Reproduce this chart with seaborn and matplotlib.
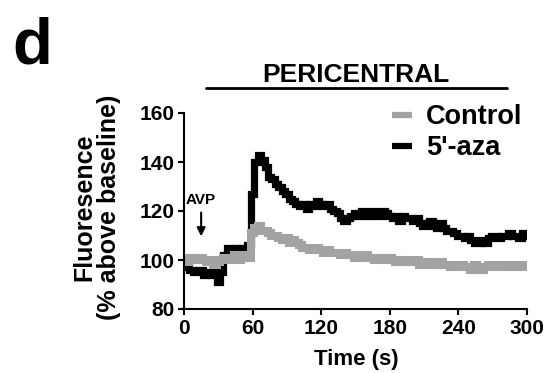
import numpy as np
import pandas as pd
import matplotlib
matplotlib.use("Agg")
import matplotlib.pyplot as plt
from matplotlib.lines import Line2D
import seaborn as sns

time_step_s = 3
aza_values = [99, 97, 96, 95, 95, 96, 94, 95, 94, 95, 91, 95, 102, 105, 104, 105, 104, 105, 104, 106,
              127, 140, 143, 141, 138, 134, 133, 131, 130, 128, 127, 125, 124, 123, 122, 123, 121, 123, 122, 124,
              123, 122, 123, 121, 120, 119, 117, 116, 117, 118, 119, 118, 120, 119, 118, 120, 119, 118, 120, 119,
              118, 117, 118, 116, 118, 117, 117, 116, 117, 115, 114, 115, 116, 114, 113, 115, 113, 112, 112, 111,
              110, 110, 109, 110, 108, 107, 107, 108, 107, 109, 110, 110, 109, 110, 110, 111, 110, 110, 109, 111,
              110]
control_values = [100, 99, 101, 100, 100, 101, 100, 99, 100, 98, 99, 100, 101, 101, 100, 102, 100, 101, 102, 101,
                  111, 113, 114, 112, 112, 111, 110, 110, 109, 108, 109, 107, 108, 107, 106, 105, 105, 104, 104, 105,
                  104, 103, 104, 103, 103, 103, 102, 103, 102, 102, 101, 102, 101, 102, 101, 101, 100, 101, 100, 100,
                  101, 100, 99, 100, 99, 100, 99, 99, 100, 98, 99, 99, 98, 99, 98, 99, 98, 98, 97, 98,
                  97, 98, 97, 97, 96, 98, 97, 96, 97, 98, 97, 97, 98, 97, 98, 98, 97, 97, 98, 97,
                  98]
series_labels = ["Control", "5'-aza"]
series_colors = ["#a3a3a3", "#000000"]
x_ticks = [0, 60, 120, 180, 240, 300]
y_ticks = [80, 100, 120, 140, 160]
stim_time = 15
stim_label = "AVP"
title = "PERICENTRAL"
panel_letter = "d"
xlabel = "Time (s)"
ylabel = "Fluoresence\n(% above baseline)"

t_ctrl = np.arange(len(control_values)) * time_step_s
t_aza = np.arange(len(aza_values)) * time_step_s
df = pd.concat([
    pd.DataFrame({"t": t_ctrl, "v": control_values, "group": series_labels[0]}),
    pd.DataFrame({"t": t_aza, "v": aza_values, "group": series_labels[1]}),
])

sns.set_style("ticks")
plt.rcParams["font.family"] = ["Liberation Sans", "DejaVu Sans"]
plt.rcParams["font.weight"] = "bold"
for k in ["text.color", "axes.labelcolor", "xtick.color", "ytick.color", "axes.edgecolor"]:
    plt.rcParams[k] = "black"

W, H = 551, 373
fig = plt.figure(figsize=(W / 100, H / 100), dpi=100)
ax = fig.add_axes([184 / W, 1 - 309 / H, (527 - 184) / W, (309 - 113) / H])

# draw black first, then grey on top
sns.lineplot(data=df[df.group == series_labels[1]], x="t", y="v", color=series_colors[1],
             lw=5.2, drawstyle="steps-mid", ax=ax, legend=False, estimator=None,
             solid_joinstyle="miter")
sns.lineplot(data=df[df.group == series_labels[0]], x="t", y="v", color=series_colors[0],
             lw=5.8, drawstyle="steps-mid", ax=ax, legend=False, estimator=None,
             solid_joinstyle="miter")

ax.set_xlim(0, 300)
ax.set_ylim(80, 160)
ax.set_xticks(x_ticks)
ax.set_yticks(y_ticks)
ax.set_xlabel("")
ax.set_ylabel("")
sns.despine(ax=ax)
for s in ["left", "bottom"]:
    ax.spines[s].set_linewidth(1.5)
    ax.spines[s].set_color("black")
ax.tick_params(axis="both", direction="out", length=4, width=1.5, colors="black",
               labelcolor="black", labelsize=15, pad=3)
for lab in ax.get_xticklabels() + ax.get_yticklabels():
    lab.set_fontweight("bold")

# AVP arrow
ax.annotate("", xy=(stim_time, 108.5), xytext=(stim_time, 120.5),
            arrowprops=dict(arrowstyle="-|>,head_length=0.5,head_width=0.25", color="black", lw=1.5))
ax.text(stim_time, 121.5, stim_label, ha="center", va="bottom", fontsize=11, fontweight="bold",
        color="black")

# legend
handles = [Line2D([], [], color=series_colors[0], lw=4.5, solid_capstyle="butt"),
           Line2D([], [], color=series_colors[1], lw=4.5, solid_capstyle="butt")]
leg = fig.legend(handles, series_labels, loc="upper left", bbox_to_anchor=(392 / W, 1 - 104 / H),
                 bbox_transform=fig.transFigure, frameon=False, fontsize=19.5, handlelength=0.75,
                 handletextpad=0.5, labelspacing=0.2, borderpad=0, borderaxespad=0)
for txt in leg.get_texts():
    txt.set_fontweight("bold")
    txt.set_color("black")

# title + bar
fig.text(356 / W, 1 - 82 / H, title, ha="center", va="baseline", fontsize=19, fontweight="bold",
         color="black")
fig.add_artist(Line2D([206 / W, 507 / W], [1 - 88 / H, 1 - 88 / H], color="black", lw=2,
                      transform=fig.transFigure))

# panel letter
fig.text(12 / W, 1 - 63 / H, panel_letter, ha="left", va="baseline", fontsize=47, fontweight="bold",
         color="black")

# axis labels
fig.text(356 / W, 1 - 360 / H, xlabel, ha="center", va="center", fontsize=16, fontweight="bold",
         color="black")
fig.text(97 / W, 1 - 207 / H, ylabel, ha="center", va="center", rotation=90, fontsize=18,
         fontweight="bold", linespacing=1.05, multialignment="center", color="black")

fig.savefig("out.png", dpi=100)
